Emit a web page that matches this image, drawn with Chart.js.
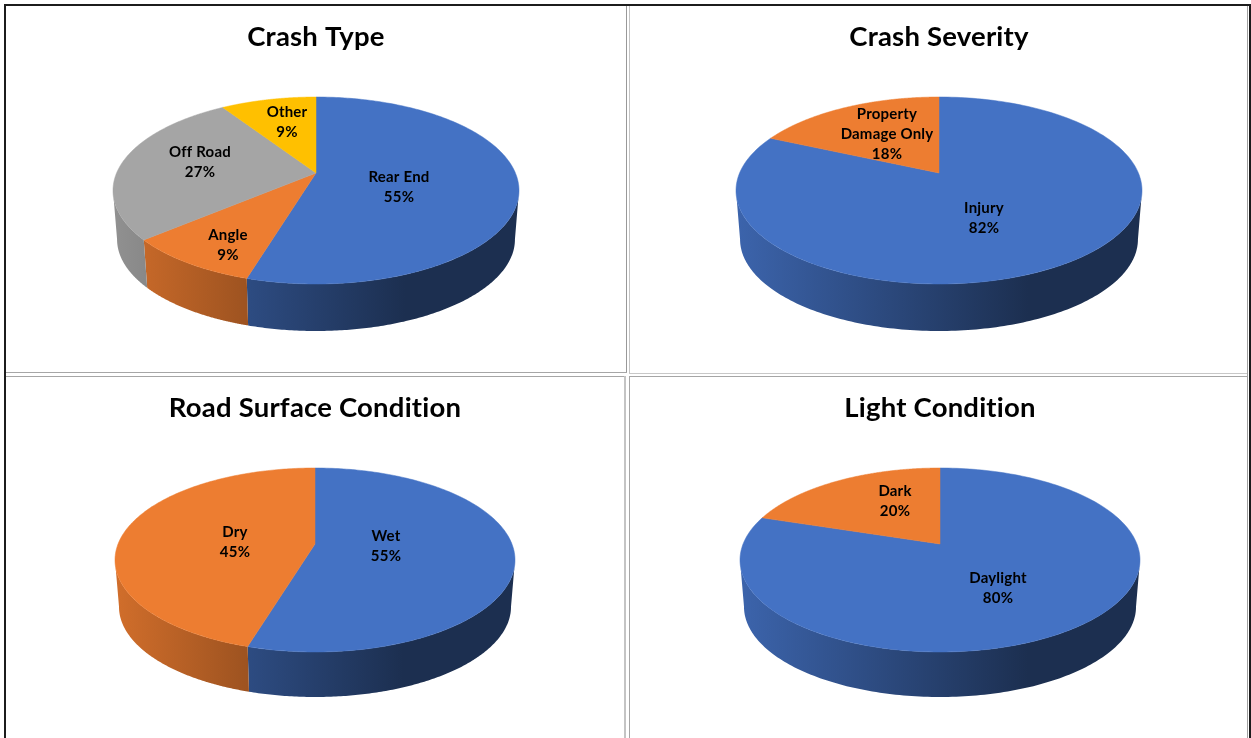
<!DOCTYPE html>
<html>
<head>
<meta charset="utf-8">
<title>Crash summary</title>
<script src="https://cdn.jsdelivr.net/npm/chart.js@4/dist/chart.umd.min.js"></script>
<style>
    html, body { margin: 0; padding: 0; background: #fff; overflow: hidden; }
    #page { position: relative; width: 1251px; height: 738px; overflow: hidden; }
    canvas { position: absolute; }
    .line { position: absolute; }
</style>
</head>
<body>
<div id="page">
    <canvas id="crashType" width="618" height="366" style="left:7px;top:6px"></canvas>
    <canvas id="crashSeverity" width="618" height="366" style="left:630px;top:6px"></canvas>
    <canvas id="roadSurface" width="618" height="361" style="left:6px;top:377px"></canvas>
    <canvas id="lightCondition" width="618" height="361" style="left:631px;top:377px"></canvas>
</div>
<script>
// values (percent of crashes), slices run clockwise from 12 o'clock
const crashTypeLabels = ['Rear End', 'Angle', 'Off Road', 'Other'];
const crashTypeValues = [54.6, 9.1, 27.2, 9.1];
const crashSeverityLabels = ['Injury', 'Property\nDamage Only'];
const crashSeverityValues = [81.8, 18.2];
const roadSurfaceLabels = ['Wet', 'Dry'];
const roadSurfaceValues = [54.6, 45.4];
const lightConditionLabels = ['Daylight', 'Dark'];
const lightConditionValues = [80, 20];

const sliceColors = [[68, 114, 196], [237, 125, 49], [165, 165, 165], [255, 192, 0]];

// how each pie is tilted; all y values are canvas relative
const panels = [
    { id: 'crashType', title: 'Crash Type', labels: crashTypeLabels, values: crashTypeValues,
      radius: 203, top: 91, apex: 167, bottom: 278, depth: 47,
      labelPos: [[83, 14], [-88, 72], [-116, -11], [-29, -51]] },
    { id: 'crashSeverity', title: 'Crash Severity', labels: crashSeverityLabels, values: crashSeverityValues,
      radius: 203, top: 91, apex: 167, bottom: 278, depth: 47,
      labelPos: [[45, 45], [-52, -39]] },
    { id: 'roadSurface', title: 'Road Surface Condition', labels: roadSurfaceLabels, values: roadSurfaceValues,
      radius: 200, top: 91, apex: 167, bottom: 275, depth: 45,
      labelPos: [[71, 2], [-80, -2]] },
    { id: 'lightCondition', title: 'Light Condition', labels: lightConditionLabels, values: lightConditionValues,
      radius: 200, top: 91, apex: 167, bottom: 275, depth: 45,
      labelPos: [[58, 44], [-45, -43]] }
];

const frameLines = [
    // outer black frame
    [4, 4, 1246, 2, '#1c1c1c'], [4, 4, 2, 734, '#1c1c1c'], [1249, 4, 2, 734, '#1c1c1c'], [1247, 6, 1, 732, '#a0a0a0'],
    // panel rules
    [626, 6, 1, 367, '#999999'], [629, 6, 1, 367, '#c4c4c4'],
    [6, 372, 621, 1, '#a6a6a6'], [629, 373, 618, 1, '#c8c8c8'],
    [6, 376, 619, 1, '#a6a6a6'], [629, 376, 618, 1, '#a6a6a6'],
    [624, 376, 2, 362, '#c4c4c4'], [629, 376, 1, 362, '#a6a6a6']
];

frameLines.forEach(l => {
    const d = document.createElement('div');
    d.className = 'line';
    d.style.cssText = `left:${l[0]}px;top:${l[1]}px;width:${l[2]}px;height:${l[3]}px;background:${l[4]}`;
    document.getElementById('page').appendChild(d);
});

function rgb(c, f) {
    return `rgb(${Math.round(c[0] * f)}, ${Math.round(c[1] * f)}, ${Math.round(c[2] * f)})`;
}

// perspective view of the flat circle, the apex sits above the middle of the ellipse
function tiltOf(panel, el) {
    const up = panel.apex - panel.top;
    const down = panel.bottom - panel.apex;
    const k = (down - up) / (down + up);
    return {
        k: k,
        a: el.outerRadius * Math.sqrt(1 - k * k),
        b: up * (1 + k),
        cx: el.x,
        cy: panel.apex,
        midY: (panel.top + panel.bottom) / 2
    };
}

function project(t, angle) {
    const x = Math.cos(angle), y = Math.sin(angle);
    const w = 1 - t.k * y;
    return [t.cx + t.a * x / w, t.cy + t.b * y / w];
}

// the rim of the base is a bit smaller because it is further from the camera
function projectBase(t, panel, angle) {
    const p = project(t, angle);
    const s = 0.98;
    const h = panel.bottom - t.midY;
    return [t.cx + (p[0] - t.cx) * s, t.midY + (p[1] - t.midY) * s + panel.depth + h * (1 - s)];
}

const tiltedPie = {
    id: 'tiltedPie',
    beforeDraw(chart) {
        // letter spacing also stops Lato from joining "ti"
        chart.ctx.letterSpacing = '0.2px';
    },
    beforeDatasetDraw(chart, args) {
        const ctx = chart.ctx;
        const panel = chart.options.plugins.tiltedPie.panel;
        const arcs = args.meta.data;
        const t = tiltOf(panel, arcs[0]);
        const R = arcs[0].outerRadius;
        const visibleFrom = Math.asin(t.k);
        const visibleTo = Math.PI - visibleFrom;

        // side wall first
        arcs.forEach((arc, i) => {
            const from = Math.max(arc.startAngle, visibleFrom);
            const to = Math.min(arc.endAngle, visibleTo);
            if (to <= from) return;
            const c = sliceColors[i];
            const g = ctx.createLinearGradient(t.cx - R, 0, t.cx + R, 0);
            g.addColorStop(0, rgb(c, 0.88));
            g.addColorStop(0.72, rgb(c, 0.41));
            g.addColorStop(1, rgb(c, 0.41));
            const steps = 160;
            ctx.beginPath();
            for (let s = 0; s <= steps; s++) {
                const p = project(t, from + (to - from) * s / steps);
                if (s === 0) ctx.moveTo(p[0], p[1]); else ctx.lineTo(p[0], p[1]);
            }
            for (let s = steps; s >= 0; s--) {
                const p = projectBase(t, panel, from + (to - from) * s / steps);
                ctx.lineTo(p[0], p[1]);
            }
            ctx.closePath();
            ctx.fillStyle = g;
            ctx.fill();
        });

        // top face
        arcs.forEach((arc, i) => {
            const steps = 200;
            ctx.beginPath();
            ctx.moveTo(t.cx, t.cy);
            for (let s = 0; s <= steps; s++) {
                const p = project(t, arc.startAngle + (arc.endAngle - arc.startAngle) * s / steps);
                ctx.lineTo(p[0], p[1]);
            }
            ctx.closePath();
            ctx.fillStyle = rgb(sliceColors[i], 1);
            ctx.strokeStyle = rgb(sliceColors[i], 1);
            ctx.lineWidth = 0.5;
            ctx.fill();
            ctx.stroke();
        });

        // data labels
        ctx.fillStyle = '#000';
        ctx.font = 'bold 15px Lato';
        ctx.textAlign = 'center';
        ctx.textBaseline = 'middle';
        arcs.forEach((arc, i) => {
            const lines = panel.labels[i].split('\n');
            lines.push(Math.round(panel.values[i]) + '%');
            const x = t.cx + panel.labelPos[i][0];
            const y = t.cy + panel.labelPos[i][1];
            lines.forEach((line, n) => {
                ctx.fillText(line, x, y + (n - (lines.length - 1) / 2) * 20);
            });
        });
        return false;
    }
};

panels.forEach(panel => {
    new Chart(document.getElementById(panel.id), {
        type: 'pie',
        data: {
            labels: panel.labels,
            datasets: [{
                data: panel.values,
                radius: panel.radius,
                backgroundColor: panel.values.map((v, i) => rgb(sliceColors[i], 1))
            }]
        },
        options: {
            responsive: false,
            animation: false,
            events: [],
            plugins: {
                legend: { display: false },
                tooltip: { enabled: false },
                title: {
                    display: true,
                    text: panel.title,
                    color: '#000',
                    font: { family: 'Lato', size: 27.5, weight: 'bold' },
                    padding: { top: 15, bottom: 0 }
                },
                tiltedPie: { panel: panel }
            }
        },
        plugins: [tiltedPie]
    });
});
</script>
</body>
</html>
